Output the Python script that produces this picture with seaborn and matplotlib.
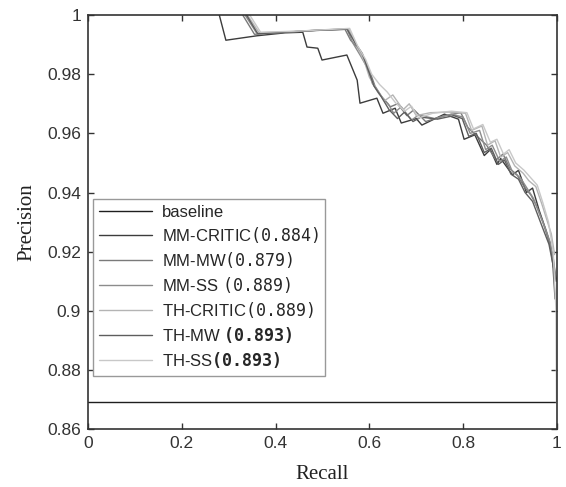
import numpy as np
import pandas as pd
import matplotlib
matplotlib.use("Agg")
import matplotlib.pyplot as plt
import seaborn as sns
from matplotlib.ticker import FuncFormatter

# ------------------------------------------------------------------
# data
# ------------------------------------------------------------------
methods = ["baseline", "MM-CRITIC", "MM-MW", "MM-SS", "TH-CRITIC", "TH-MW", "TH-SS"]
labels = ["baseline", r"MM-CRITIC$\mathrm{(0.884)}$", r"MM-MW$\mathrm{(0.879)}$",
          r"MM-SS $\mathrm{(0.889)}$", r"TH-CRITIC$\mathrm{(0.889)}$",
          r"TH-MW $\mathbf{(0.893)}$", r"TH-SS$\mathbf{(0.893)}$"]

baseline_recall = [0.0, 1.0]
baseline_prec = [0.869, 0.869]

mm_critic_recall = [0.28, 0.294, 0.36, 0.42, 0.458, 0.467, 0.49, 0.499, 0.552, 0.574, 0.580,
                    0.616, 0.629, 0.655, 0.668, 0.700, 0.712, 0.760, 0.790, 0.802, 0.825, 0.845,
                    0.858, 0.872, 0.880, 0.905, 0.918, 0.935, 0.948, 0.962, 0.975, 0.985, 0.992, 1.0]
mm_critic_prec = [1.0, 0.9915, 0.993, 0.994, 0.9942, 0.9892, 0.9888, 0.9848, 0.9865, 0.978, 0.9702,
                  0.9719, 0.9668, 0.9685, 0.9635, 0.965, 0.9628, 0.9665, 0.9648, 0.958, 0.9595, 0.9525,
                  0.9545, 0.9495, 0.9515, 0.946, 0.9475, 0.940, 0.9415, 0.934, 0.928, 0.923, 0.915, 0.910]

mm_mw_recall = [0.330, 0.355, 0.40, 0.45, 0.50, 0.548, 0.560, 0.575, 0.590, 0.603, 0.612, 0.628,
                0.645, 0.660, 0.680, 0.695, 0.720, 0.760, 0.795, 0.810, 0.830, 0.850, 0.870, 0.885,
                0.900, 0.915, 0.930, 0.945, 0.958, 0.970, 0.980, 0.990, 0.997]
mm_mw_prec = [1.0, 0.9935, 0.9940, 0.9945, 0.9950, 0.9952, 0.9915, 0.9890, 0.9850, 0.9800, 0.9760,
              0.9720, 0.9690, 0.9700, 0.9660, 0.9680, 0.9640, 0.9660, 0.9670, 0.9620, 0.9590, 0.9560,
              0.9510, 0.9530, 0.9480, 0.9460, 0.9420, 0.9390, 0.9350, 0.9300, 0.9250, 0.9190, 0.9120]

mm_ss_recall = [0.335, 0.360, 0.42, 0.48, 0.552, 0.565, 0.582, 0.598, 0.606, 0.620, 0.640, 0.652,
                0.668, 0.690, 0.705, 0.740, 0.775, 0.800, 0.815, 0.835, 0.848, 0.862, 0.878, 0.892,
                0.905, 0.922, 0.938, 0.950, 0.962, 0.975, 0.986, 0.993, 0.998]
mm_ss_prec = [1.0, 0.9938, 0.9942, 0.9948, 0.9953, 0.9905, 0.9860, 0.9815, 0.9770, 0.9735, 0.9700,
              0.9668, 0.9690, 0.9645, 0.9662, 0.9650, 0.9665, 0.9655, 0.9600, 0.9610, 0.9545, 0.9560,
              0.9505, 0.9520, 0.9470, 0.9450, 0.9410, 0.9380, 0.9330, 0.9280, 0.9230, 0.9170, 0.9100]

th_critic_recall = [0.340, 0.365, 0.43, 0.50, 0.556, 0.572, 0.590, 0.600, 0.615, 0.632, 0.650,
                    0.672, 0.685, 0.700, 0.730, 0.770, 0.805, 0.818, 0.840, 0.852, 0.868, 0.880,
                    0.895, 0.910, 0.928, 0.940, 0.955, 0.968, 0.978, 0.988, 0.995]
th_critic_prec = [1.0, 0.9940, 0.9944, 0.9950, 0.9953, 0.9900, 0.9840, 0.9790, 0.9750, 0.9710, 0.9730,
                  0.9680, 0.9700, 0.9660, 0.9670, 0.9672, 0.9668, 0.9610, 0.9625, 0.9560, 0.9575, 0.9520,
                  0.9535, 0.9490, 0.9465, 0.9440, 0.9420, 0.9360, 0.9310, 0.9260, 0.9190]

th_mw_recall = [0.338, 0.362, 0.44, 0.50, 0.553, 0.568, 0.585, 0.596, 0.610, 0.625, 0.642, 0.660,
                0.675, 0.693, 0.710, 0.745, 0.780, 0.798, 0.812, 0.828, 0.845, 0.860, 0.875, 0.888,
                0.902, 0.918, 0.932, 0.948, 0.960, 0.972, 0.983, 0.991, 0.996]
th_mw_prec = [1.0, 0.9937, 0.9944, 0.9949, 0.9952, 0.9910, 0.9870, 0.9820, 0.9760, 0.9725, 0.9680,
              0.9650, 0.9672, 0.9640, 0.9655, 0.9648, 0.9660, 0.9650, 0.9590, 0.9600, 0.9535, 0.9550,
              0.9495, 0.9510, 0.9462, 0.9445, 0.9400, 0.9370, 0.9320, 0.9270, 0.9225, 0.9160, 0.9040]

th_ss_recall = [0.345, 0.368, 0.45, 0.51, 0.558, 0.575, 0.592, 0.605, 0.622, 0.638, 0.655, 0.675,
                0.690, 0.705, 0.735, 0.775, 0.808, 0.822, 0.842, 0.858, 0.872, 0.886, 0.898, 0.912,
                0.930, 0.944, 0.958, 0.970, 0.982, 0.992, 0.998, 0.999]
th_ss_prec = [1.0, 0.9942, 0.9946, 0.9951, 0.9955, 0.9895, 0.9850, 0.9800, 0.9765, 0.9740, 0.9705,
              0.9675, 0.9692, 0.9652, 0.9668, 0.9675, 0.9670, 0.9615, 0.9630, 0.9570, 0.9580, 0.9530,
              0.9545, 0.9500, 0.9475, 0.9450, 0.9425, 0.9365, 0.9300, 0.9200, 0.9000, 0.8690]

colors = ["#1e1e1e", "#3c3c3c", "#7a7a7a", "#8c8c8c", "#b4b4b4", "#5e5e5e", "#c8c8c8"]

curves = [(baseline_recall, baseline_prec), (mm_critic_recall, mm_critic_prec),
          (mm_mw_recall, mm_mw_prec), (mm_ss_recall, mm_ss_prec),
          (th_critic_recall, th_critic_prec), (th_mw_recall, th_mw_prec),
          (th_ss_recall, th_ss_prec)]

rows = []
for m, (r, p) in zip(methods, curves):
    for i, (rr, pp) in enumerate(zip(r, p)):
        rows.append({"method": m, "order": i, "recall": rr, "precision": pp})
df = pd.DataFrame(rows)

# ------------------------------------------------------------------
# plot
# ------------------------------------------------------------------
sns.set_theme(style="ticks")
plt.rcParams["font.family"] = ["Liberation Sans", "DejaVu Sans"]
plt.rcParams["mathtext.fontset"] = "custom"
plt.rcParams["mathtext.rm"] = "DejaVu Sans Mono"
plt.rcParams["mathtext.bf"] = "DejaVu Sans Mono:bold"

fig = plt.figure(figsize=(5.66, 4.87), dpi=100)
ax = fig.add_axes([0.1555, 0.119, 0.8285, 0.850])

sns.lineplot(data=df, x="recall", y="precision", hue="method", hue_order=methods,
             palette=dict(zip(methods, colors)), sort=False, estimator=None,
             units="method", linewidth=1.0, ax=ax)

ax.set_xlim(0, 1)
ax.set_ylim(0.86, 1.0)
ax.set_xticks(np.arange(0, 1.01, 0.2))
ax.set_yticks(np.arange(0.86, 1.001, 0.02))
ax.xaxis.set_major_formatter(FuncFormatter(lambda v, pos: f"{v:g}"))
ax.yaxis.set_major_formatter(FuncFormatter(lambda v, pos: f"{round(v, 2):g}"))
ax.tick_params(direction="in", top=True, right=True, length=4, width=1,
               labelsize=12.5, colors="#333333", pad=5)
for s in ax.spines.values():
    s.set_color("#333333")
    s.set_linewidth(1.2)

ax.set_xlabel("Recall", family="Liberation Serif", fontsize=15, color="#222222", labelpad=10)
ax.set_ylabel("Precision", family="Liberation Serif", fontsize=15, color="#222222", labelpad=8)

handles, _ = ax.get_legend_handles_labels()
leg = ax.legend(handles, labels, loc="upper left", bbox_to_anchor=(0.01, 0.556),
                borderaxespad=0, fontsize=12, handlelength=3.2, labelspacing=0.3,
                handletextpad=0.6, borderpad=0.35,
                frameon=True, fancybox=False, edgecolor="#999999", framealpha=1)
leg.get_frame().set_linewidth(1.0)

fig.savefig("out.png", dpi=100)
